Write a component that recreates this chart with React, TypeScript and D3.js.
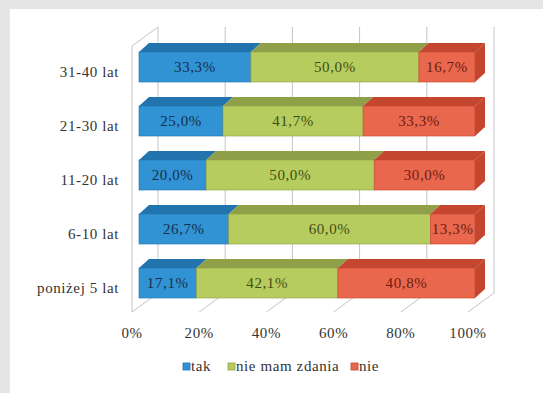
import React from 'react';
import * as d3 from 'd3';

const categories = ['31-40 lat', '21-30 lat', '11-20 lat', '6-10 lat', 'poniżej 5 lat'];
const seriesNames = ['tak', 'nie mam zdania', 'nie'];
const tak = [33.3, 25.0, 20.0, 26.7, 17.1];
const nieMamZdania = [50.0, 41.7, 50.0, 60.0, 42.1];
const nie = [16.7, 33.3, 30.0, 13.3, 40.8];
const ticks = [0, 0.2, 0.4, 0.6, 0.8, 1];

const front = ['#3193d3', '#b7cc5e', '#e9674c'];
const topFace = ['#2174ad', '#8fa049', '#c4462f'];
const labelColor = ['#162f4c', '#3f4e14', '#6e1c10'];

const W = 543;
const H = 393;
const serif = '"Liberation Serif"';

const App = () => {
  const values = [tak, nieMamZdania, nie];

  // front of the floor/walls and the bars' front faces
  const xFloor = d3.scaleLinear().domain([0, 1]).range([132, 468]);
  const xBar = d3.scaleLinear().domain([0, 1]).range([139, 475]);
  const depthX = 26;
  const depthY = -19;
  const floorY = 312;
  const wallTop = 27;
  const barDx = 10;
  const barDy = -9;

  const y = d3.scaleBand().domain(categories).range([40, 310]).paddingInner(0.444).paddingOuter(0.222);
  const bh = y.bandwidth();

  const stacked = categories.map((c, i) => {
    let acc = 0;
    return values.map((s, k) => {
      const v = s[i] / 100;
      const seg = { k, v: s[i], x0: acc, x1: acc + v };
      acc += v;
      return seg;
    });
  });

  const grid = '#c4c4c4';
  const fmt = (v: number) => v.toFixed(1).replace('.', ',') + '%';

  const stext = (x: number, yy: number, txt: string, size: number, anchor: string, fill: string, key?: string, weight = 400) => (
    <text
      key={key}
      x={x}
      y={yy}
      textAnchor={anchor}
      style={{ fontFamily: serif, fontSize: size, fontWeight: weight, letterSpacing: '0.6px' }}
      fill={fill}
    >
      {txt}
    </text>
  );

  return (
    <svg width={W} height={H} style={{ position: 'fixed', left: 0, top: 0 }}>
      <rect x={0} y={0} width={W} height={H} fill="#e5e5e5" />
      <rect x={10} y={9} width={W - 10} height={H - 9} fill="#ffffff" />

      {/* walls */}
      <line x1={xFloor(0)} y1={wallTop - depthY} x2={xFloor(0)} y2={floorY} stroke={grid} />
      <line x1={xFloor(0)} y1={wallTop - depthY} x2={xFloor(0) + depthX} y2={wallTop} stroke={grid} />
      {ticks.map((t) => (
        <g key={t}>
          <line x1={xFloor(t) + depthX} y1={wallTop} x2={xFloor(t) + depthX} y2={floorY + depthY} stroke={grid} />
          <line x1={xFloor(t) + depthX} y1={floorY + depthY} x2={xFloor(t)} y2={floorY} stroke={grid} />
        </g>
      ))}

      {/* bars */}
      {stacked.map((segs, i) => {
        const yt = y(categories[i]) as number;
        const last = segs[segs.length - 1];
        return (
          <g key={categories[i]}>
            {segs.map((s) => {
              const a = xBar(s.x0);
              const b = xBar(s.x1);
              return (
                <polygon
                  key={'t' + s.k}
                  points={`${a},${yt} ${b},${yt} ${b + barDx},${yt + barDy} ${a + barDx},${yt + barDy}`}
                  fill={topFace[s.k]}
                />
              );
            })}
            <polygon
              points={`${xBar(last.x1)},${yt} ${xBar(last.x1) + barDx},${yt + barDy} ${xBar(last.x1) + barDx},${yt + bh + barDy} ${xBar(last.x1)},${yt + bh}`}
              fill={topFace[last.k]}
            />
            {segs.map((s) => (
              <rect
                key={'f' + s.k}
                x={xBar(s.x0)}
                y={yt}
                width={xBar(s.x1) - xBar(s.x0)}
                height={bh}
                fill={front[s.k]}
                stroke={topFace[s.k]}
                strokeWidth={0.6}
              />
            ))}
            {segs.map((s) =>
              stext((xBar(s.x0) + xBar(s.x1)) / 2, yt + bh / 2 + 5, fmt(s.v), 15, 'middle', labelColor[s.k], 'l' + s.k)
            )}
          </g>
        );
      })}

      {/* category labels */}
      {categories.map((c) =>
        stext(119, (y(c) as number) + bh / 2 + 10, c, 15, 'end', '#333333', c)
      )}

      {/* x tick labels */}
      {ticks.map((t) => stext(xFloor(t), 338, `${Math.round(t * 100)}%`, 15, 'middle', '#333333', 'x' + t))}

      {/* legend */}
      {[
        { k: 0, x: 183 },
        { k: 1, x: 228 },
        { k: 2, x: 351 },
      ].map((l) => (
        <g key={l.k}>
          <rect x={l.x} y={363} width={7} height={7} fill={front[l.k]} stroke={topFace[l.k]} strokeWidth={0.8} />
          {stext(l.x + 8, 371, seriesNames[l.k], 15, 'start', '#333333')}
        </g>
      ))}
    </svg>
  );
};

export default App;
